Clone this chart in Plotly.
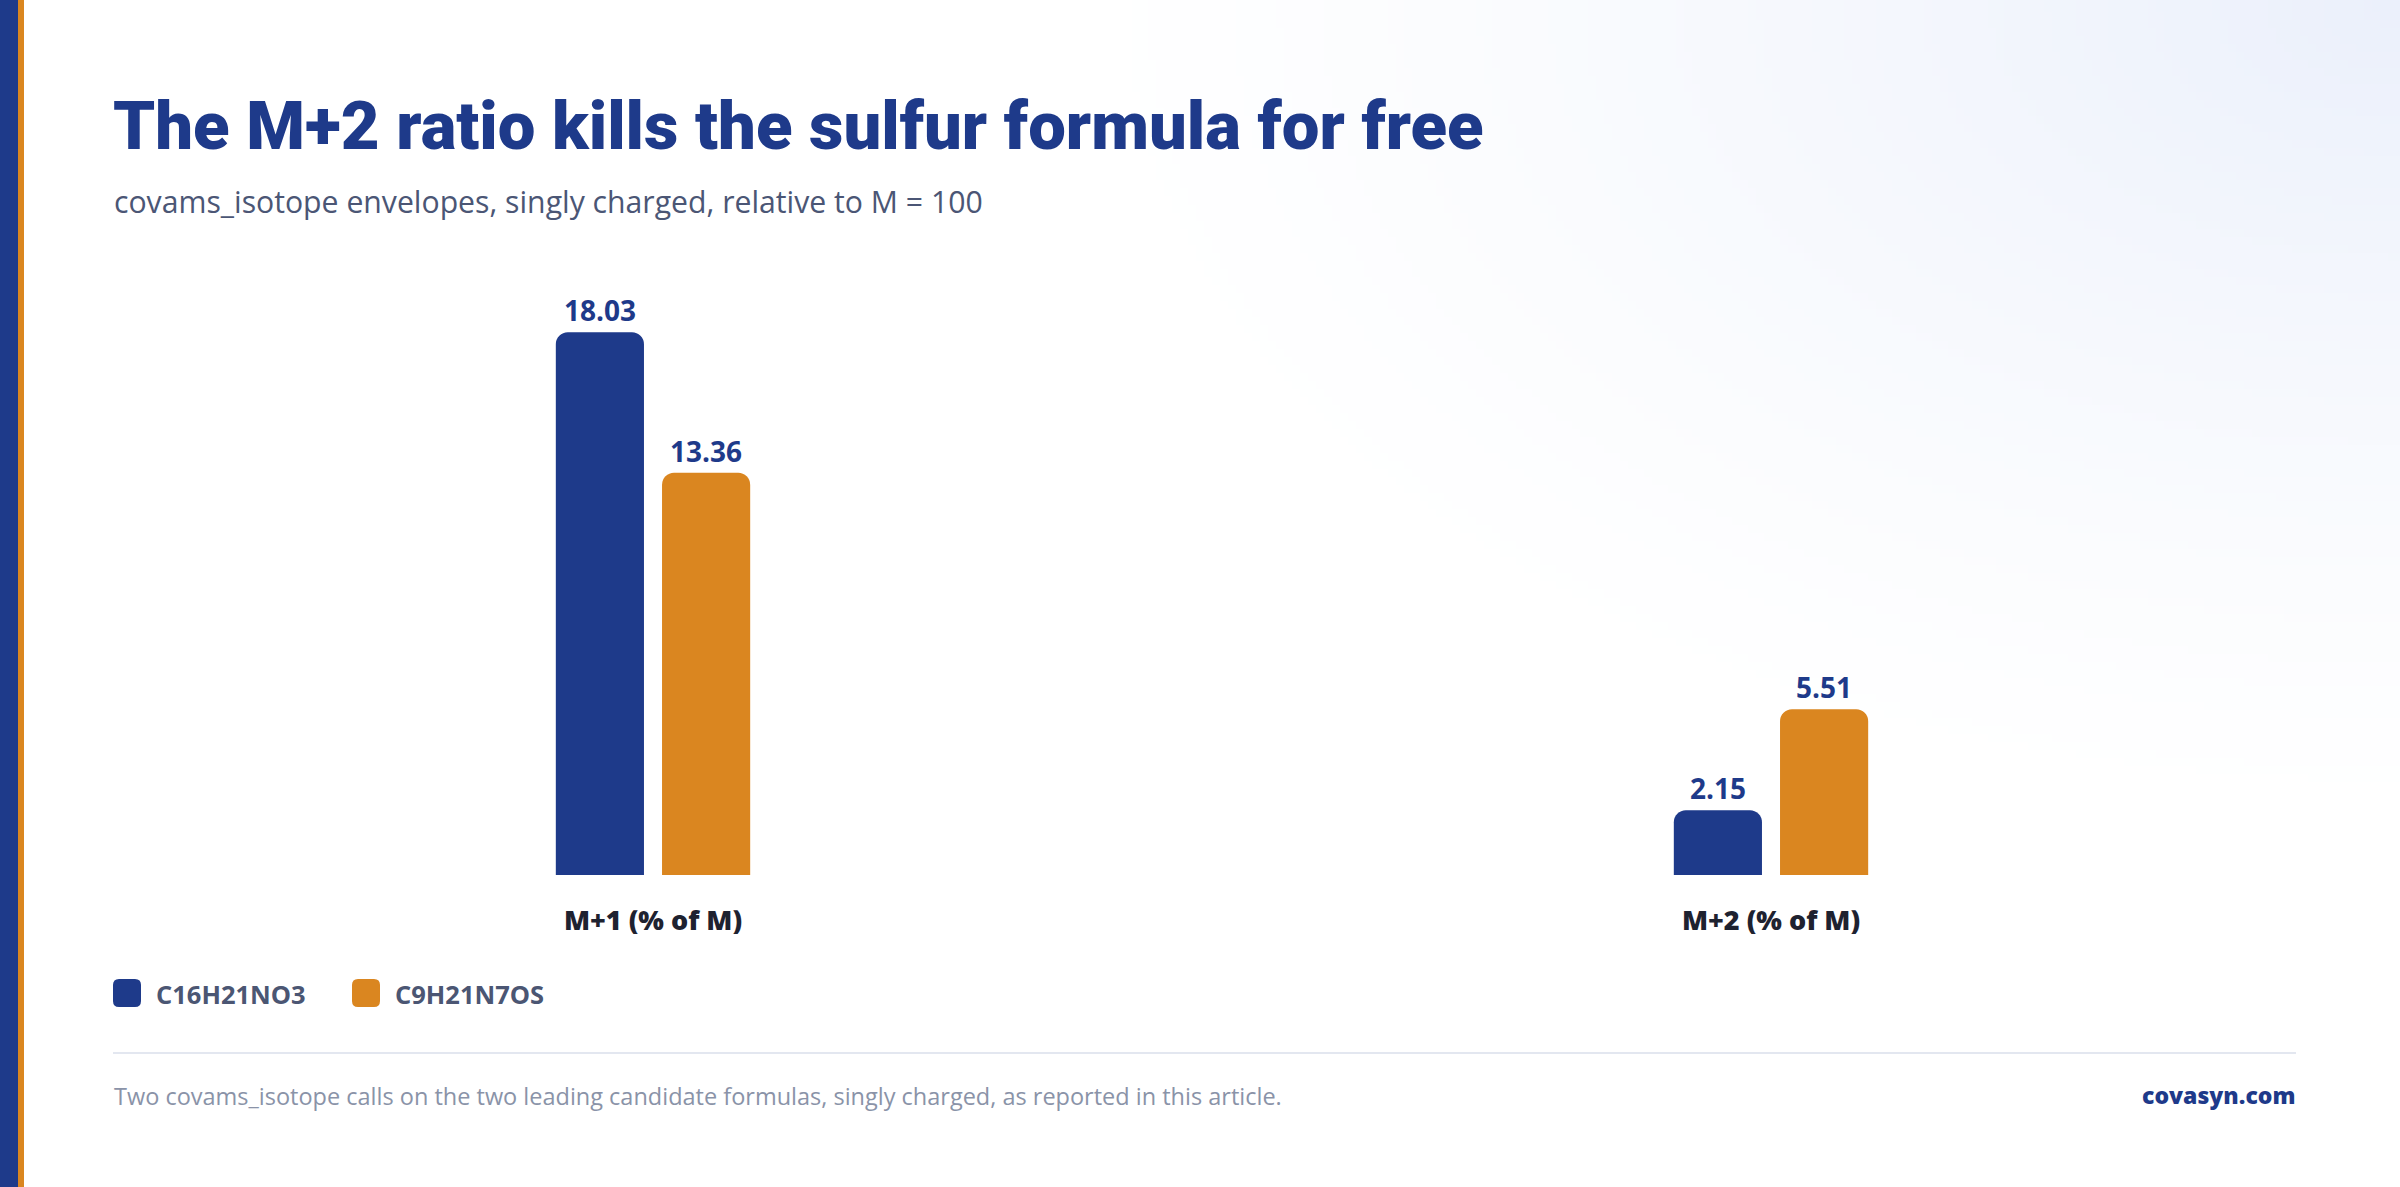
import base64, struct, zlib
import plotly.graph_objects as go

# ---------------- data ----------------
categories = ["M+1 (% of M)", "M+2 (% of M)"]
series_names = ["C16H21NO3", "C9H21N7OS"]
series_values = [
    [18.03, 2.15],
    [13.36, 5.51],
]
series_colors = ["#1e3a8a", "#da8620"]

title_text = "The M+2 ratio kills the sulfur formula for free"
subtitle_text = "covams_isotope envelopes, singly charged, relative to M = 100"
footer_text = ("Two covams_isotope calls on the two leading candidate formulas, "
               "singly charged, as reported in this article.")
brand_text = "covasyn.com"

# ---------------- geometry ----------------
WIDTH, HEIGHT = 2400, 1187
L, R, T, B = 94, 70, 273, 312
PW = WIDTH - L - R
PH = HEIGHT - T - B


def px(x):
    return (x - L) / PW


def py(y):
    return (HEIGHT - B - y) / PH


# ---------------- background gradient (generated PNG) ----------------
def gradient_png(w, h):
    rows = []
    c = (235, 240, 251)
    for j in range(h):
        row = bytearray([0])
        yy = j * HEIGHT / h
        for i in range(w):
            xx = i * WIDTH / w
            d = (((WIDTH - xx) / 1350.0) ** 2 + (yy / 820.0) ** 2) ** 0.5
            t = max(0.0, 1.0 - d) ** 1.3
            row += bytes(int(round(255 - t * (255 - ch))) for ch in c)
        rows.append(bytes(row))
    raw = b"".join(rows)

    def chunk(tag, data):
        return (struct.pack(">I", len(data)) + tag + data +
                struct.pack(">I", zlib.crc32(tag + data) & 0xffffffff))

    png = b"\x89PNG\r\n\x1a\n"
    png += chunk(b"IHDR", struct.pack(">IIBBBBB", w, h, 8, 2, 0, 0, 0))
    png += chunk(b"IDAT", zlib.compress(raw, 9))
    png += chunk(b"IEND", b"")
    return "data:image/png;base64," + base64.b64encode(png).decode()


bg = gradient_png(300, 148)

# ---------------- figure ----------------
fig = go.Figure()
for name, vals, col in zip(series_names, series_values, series_colors):
    fig.add_trace(go.Bar(
        x=categories, y=vals, name=name,
        marker=dict(color=col, cornerradius=12, line=dict(width=0)),
        text=[f"{v:.2f}" for v in vals],
        textposition="outside",
        textfont=dict(family="Open Sans", size=28, color="#1e3a8a", weight=700),
        cliponaxis=False,
        showlegend=False,
        hoverinfo="skip",
    ))

shapes = [
    dict(type="rect", xref="paper", yref="paper", x0=px(0), x1=px(18),
         y0=py(HEIGHT), y1=py(0), fillcolor="#1e3a8a", line=dict(width=0), layer="above"),
    dict(type="rect", xref="paper", yref="paper", x0=px(18), x1=px(24),
         y0=py(HEIGHT), y1=py(0), fillcolor="#da8620", line=dict(width=0), layer="above"),
    dict(type="line", xref="paper", yref="paper", x0=px(113), x1=px(2296),
         y0=py(1053), y1=py(1053), line=dict(color="#e3e7f0", width=2)),
]

annotations = [
    dict(text=title_text, x=px(111), y=py(126), xref="paper", yref="paper",
         xanchor="left", yanchor="middle", showarrow=False,
         font=dict(family="Roboto", size=67, color="#1e3a8a", weight=900)),
    dict(text=subtitle_text, x=px(112), y=py(201), xref="paper", yref="paper",
         xanchor="left", yanchor="middle", showarrow=False,
         font=dict(family="Open Sans", size=30.2, color="#4b5675")),
    dict(text=footer_text, x=px(112), y=py(1096), xref="paper", yref="paper",
         xanchor="left", yanchor="middle", showarrow=False,
         font=dict(family="Open Sans", size=23.5, color="#8a93a8")),
    dict(text=brand_text, x=px(2297), y=py(1095), xref="paper", yref="paper",
         xanchor="right", yanchor="middle", showarrow=False,
         font=dict(family="Open Sans", size=23, color="#1e3a8a", weight=800)),
]

# manual legend
lx = 113
for name, col in zip(series_names, series_colors):
    x0, x1, y0, y1 = lx, lx + 28, 979, 1007
    r = 6
    path = (f"M {px(x0 + r)} {py(y0)} L {px(x1 - r)} {py(y0)} "
            f"Q {px(x1)} {py(y0)} {px(x1)} {py(y0 + r)} L {px(x1)} {py(y1 - r)} "
            f"Q {px(x1)} {py(y1)} {px(x1 - r)} {py(y1)} L {px(x0 + r)} {py(y1)} "
            f"Q {px(x0)} {py(y1)} {px(x0)} {py(y1 - r)} L {px(x0)} {py(y0 + r)} "
            f"Q {px(x0)} {py(y0)} {px(x0 + r)} {py(y0)} Z")
    shapes.append(dict(type="path", xref="paper", yref="paper", path=path,
                       fillcolor=col, line=dict(width=0)))
    annotations.append(dict(text=name, x=px(lx + 41), y=py(994),
                            xref="paper", yref="paper", xanchor="left", yanchor="middle",
                            showarrow=False,
                            font=dict(family="Open Sans", size=25.5, color="#4b5673", weight=700)))
    lx += 239

fig.update_layout(
    width=WIDTH, height=HEIGHT,
    margin=dict(l=L, r=R, t=T, b=B, pad=0),
    paper_bgcolor="#ffffff", plot_bgcolor="rgba(0,0,0,0)",
    barmode="group", bargap=0.81, bargroupgap=0.17,
    showlegend=False,
    shapes=shapes, annotations=annotations,
    images=[dict(source=bg, xref="paper", yref="paper", x=px(0), y=py(0),
                 sizex=WIDTH / PW, sizey=HEIGHT / PH, xanchor="left", yanchor="top",
                 sizing="stretch", layer="below")],
    xaxis=dict(showgrid=False, zeroline=False, showline=False, ticks="",
               tickfont=dict(family="Open Sans", size=27, color="#1e2230", weight=800),
               ticklabelstandoff=27, fixedrange=True),
    yaxis=dict(visible=False, range=[0, 20], showgrid=False, zeroline=False, fixedrange=True),
    font=dict(family="Open Sans"),
)

fig.write_html("out.html", config={"displayModeBar": False})
